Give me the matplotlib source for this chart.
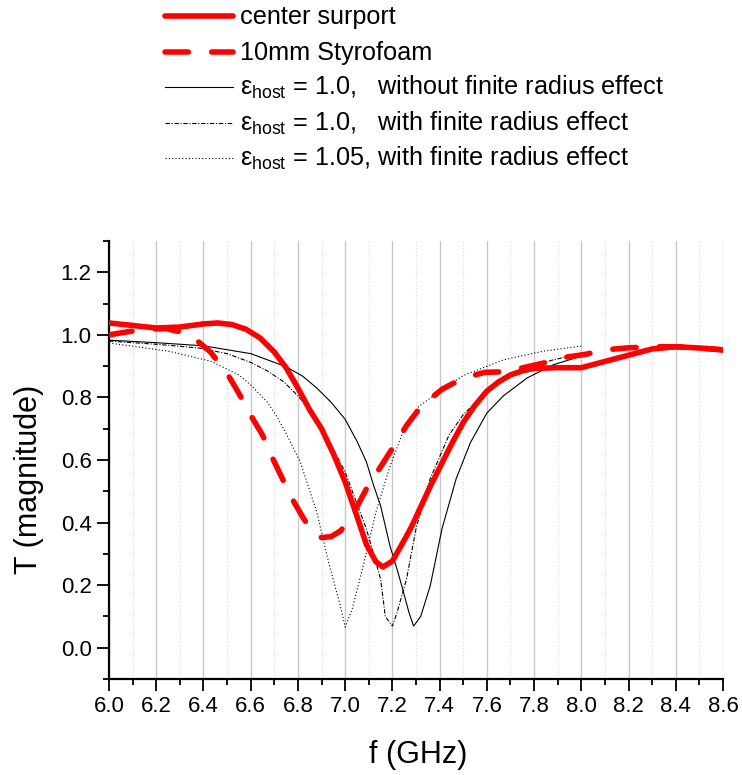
import matplotlib
matplotlib.use("Agg")
import matplotlib.pyplot as plt
from matplotlib.lines import Line2D
from matplotlib.ticker import MultipleLocator, FormatStrFormatter

plt.rcParams["font.family"] = ["Liberation Sans", "DejaVu Sans"]
plt.rcParams["mathtext.fontset"] = "custom"
plt.rcParams["mathtext.rm"] = "Liberation Sans"
plt.rcParams["mathtext.it"] = "Liberation Sans:italic"

# measured: center support
f_center = [6.00, 6.10, 6.20, 6.30, 6.40, 6.46, 6.52, 6.58, 6.64, 6.70, 6.75,
            6.80, 6.85, 6.90, 6.95, 7.00, 7.05, 7.09, 7.13, 7.16, 7.20, 7.24,
            7.28, 7.32, 7.36, 7.40, 7.45, 7.50, 7.55, 7.60, 7.65, 7.70, 7.75,
            7.80, 7.90, 8.00, 8.10, 8.20, 8.30, 8.40, 8.50, 8.60]
T_center = [1.038, 1.030, 1.022, 1.025, 1.035, 1.038, 1.033, 1.018, 0.990, 0.945, 0.895,
            0.830, 0.760, 0.700, 0.620, 0.530, 0.420, 0.330, 0.275, 0.258, 0.277, 0.330,
            0.385, 0.450, 0.515, 0.575, 0.650, 0.720, 0.775, 0.820, 0.850, 0.872, 0.885,
            0.893, 0.895, 0.895, 0.915, 0.935, 0.955, 0.962, 0.958, 0.952]

# measured: 10mm styrofoam
f_styro = [6.00, 6.08, 6.16, 6.24, 6.30, 6.36, 6.43, 6.50, 6.55, 6.60, 6.65,
           6.69, 6.73, 6.77, 6.82, 6.86, 6.90, 6.94, 6.98, 7.02, 7.05, 7.09,
           7.15, 7.20, 7.26, 7.32, 7.41, 7.50, 7.59, 7.67, 7.76, 7.84, 7.93,
           8.02, 8.10, 8.19, 8.29, 8.40, 8.50, 8.60]
T_styro = [1.000, 1.010, 1.018, 1.020, 1.010, 0.990, 0.945, 0.877, 0.813, 0.743, 0.680,
           0.610, 0.547, 0.483, 0.418, 0.370, 0.352, 0.355, 0.373, 0.410, 0.450, 0.508,
           0.578, 0.637, 0.710, 0.770, 0.826, 0.862, 0.880, 0.882, 0.896, 0.910, 0.928,
           0.938, 0.952, 0.958, 0.962, 0.962, 0.958, 0.952]

# model: eps_host = 1.0, without finite radius effect
f_model_a = [6.00, 6.20, 6.40, 6.60, 6.75, 6.82, 6.88, 6.94, 7.00, 7.05, 7.09,
             7.12, 7.15, 7.19, 7.22, 7.24, 7.27, 7.29, 7.32, 7.36, 7.41, 7.47,
             7.53, 7.60, 7.67, 7.77, 7.88, 8.00]
T_model_a = [0.983, 0.975, 0.965, 0.940, 0.898, 0.868, 0.830, 0.785, 0.730, 0.660, 0.594,
             0.520, 0.454, 0.325, 0.250, 0.197, 0.113, 0.069, 0.100, 0.197, 0.380, 0.540,
             0.655, 0.750, 0.805, 0.862, 0.904, 0.932]

# model: eps_host = 1.0, with finite radius effect
f_model_b = [6.00, 6.20, 6.38, 6.50, 6.60, 6.67, 6.74, 6.80, 6.84, 6.88, 6.94,
             7.00, 7.05, 7.09, 7.12, 7.15, 7.17, 7.20, 7.22, 7.26, 7.30, 7.36,
             7.44, 7.50, 7.57, 7.65, 7.74, 7.88, 8.00]
T_model_b = [0.980, 0.970, 0.958, 0.940, 0.912, 0.885, 0.850, 0.805, 0.770, 0.725, 0.648,
             0.562, 0.460, 0.380, 0.300, 0.220, 0.100, 0.069, 0.113, 0.220, 0.380, 0.540,
             0.680, 0.745, 0.797, 0.845, 0.885, 0.920, 0.940]

# model: eps_host = 1.05, with finite radius effect
f_model_c = [6.00, 6.25, 6.43, 6.55, 6.60, 6.67, 6.71, 6.75, 6.81, 6.88, 6.93,
             6.98, 7.00, 7.03, 7.08, 7.13, 7.19, 7.26, 7.31, 7.40, 7.50, 7.67,
             7.84, 8.00]
T_model_c = [0.974, 0.948, 0.916, 0.872, 0.840, 0.785, 0.740, 0.685, 0.594, 0.433, 0.273,
             0.133, 0.066, 0.124, 0.273, 0.433, 0.580, 0.720, 0.770, 0.820, 0.870, 0.920,
             0.948, 0.964]

labels = [
    "center surport",
    "10mm Styrofoam",
    r"ε$_{\mathrm{host}}$ = 1.0,   without finite radius effect",
    r"ε$_{\mathrm{host}}$ = 1.0,   with finite radius effect",
    r"ε$_{\mathrm{host}}$ = 1.05, with finite radius effect",
]

red = "#ff0000"
styles = [
    dict(color=red, lw=4.0, solid_capstyle="round", solid_joinstyle="round", zorder=5),
    dict(color=red, lw=4.0, dashes=(4.2, 4.2), dash_capstyle="round", zorder=5),
    dict(color="black", lw=0.8, zorder=4),
    dict(color="black", lw=0.8, dashes=(4, 1.5, 1, 1.5), zorder=4),
    dict(color="black", lw=0.8, dashes=(1, 2), zorder=4),
]
series = [(f_center, T_center), (f_styro, T_styro), (f_model_a, T_model_a),
          (f_model_b, T_model_b), (f_model_c, T_model_c)]

W, H = 742, 775
fig = plt.figure(figsize=(W / 100, H / 100), dpi=100)
ax = fig.add_axes([109 / W, 1 - 679 / H, (723 - 109) / W, (679 - 241) / H])

for (fx, ty), st, lab in zip(series, styles, labels):
    ax.plot(fx, ty, label=lab, **st)

ax.set_xlim(6.0, 8.6)
ax.set_ylim(-0.1, 1.3)
ax.xaxis.set_major_locator(MultipleLocator(0.2))
ax.xaxis.set_minor_locator(MultipleLocator(0.1))
ax.yaxis.set_major_locator(MultipleLocator(0.2))
ax.yaxis.set_minor_locator(MultipleLocator(0.1))
ax.xaxis.set_major_formatter(FormatStrFormatter("%.1f"))
ax.yaxis.set_major_formatter(FormatStrFormatter("%.1f"))
ax.set_yticks([0.0, 0.2, 0.4, 0.6, 0.8, 1.0, 1.2])

ax.grid(True, axis="x", which="major", color="#c8c8c8", lw=1.0, zorder=0)
ax.grid(True, axis="x", which="minor", color="#d8d8d8", lw=0.8, ls=(0, (1, 2)), zorder=0)

for side in ["top", "right"]:
    ax.spines[side].set_visible(False)
for side in ["left", "bottom"]:
    ax.spines[side].set_linewidth(1.6)

ax.tick_params(which="major", direction="out", length=8.5, width=1.3, labelsize=16, pad=4)
ax.tick_params(which="minor", direction="out", length=4.5, width=1.3)

ax.set_xlabel("f (GHz)", fontsize=22, va="center")
ax.set_ylabel("T (magnitude)", fontsize=22, va="center")
ax.xaxis.set_label_coords((418 - 109) / 614, (679 - 755) / 438)
ax.yaxis.set_label_coords((29 - 109) / 614, (679 - 479) / 438)

# legend drawn row by row above the axes
row_y = [16, 52, 87, 123, 158]
for ypix, st, lab in zip(row_y, styles, labels):
    st_leg = {k: v for k, v in st.items() if k != "zorder"}
    fig.add_artist(Line2D([165 / W, 233 / W], [1 - ypix / H, 1 - ypix / H],
                          transform=fig.transFigure, **st_leg))
    fig.text(240 / W, 1 - (ypix + 8) / H, lab, fontsize=18.2, va="baseline", ha="left")

fig.savefig("out.png", dpi=100)
